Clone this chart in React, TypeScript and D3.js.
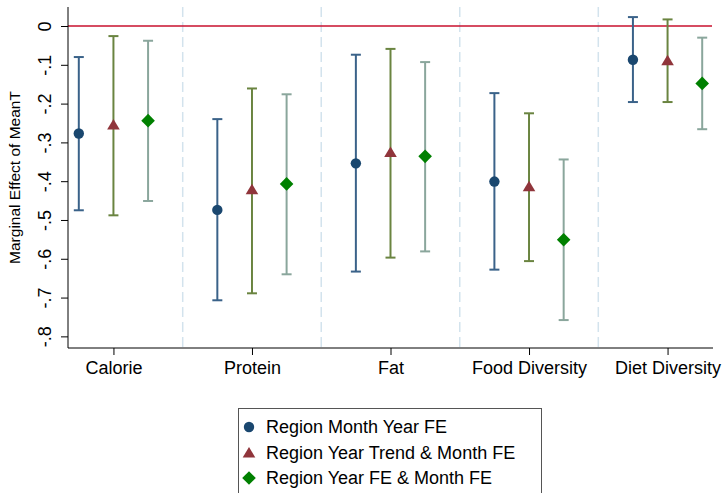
import React, { useRef, useEffect } from "react";
import * as d3 from "d3";

const categories = ["Calorie", "Protein", "Fat", "Food Diversity", "Diet Diversity"];
const seriesNames = [
  "Region Month Year FE",
  "Region Year Trend & Month FE",
  "Region Year FE & Month FE",
];
// point estimates, one array per model
const estMonthYear = [-0.277, -0.474, -0.354, -0.401, -0.087];
const estYearTrend = [-0.254, -0.421, -0.325, -0.413, -0.088];
const estYearFE = [-0.244, -0.407, -0.336, -0.551, -0.148];
// confidence interval ends
const loMonthYear = [-0.475, -0.707, -0.633, -0.628, -0.196];
const hiMonthYear = [-0.08, -0.24, -0.074, -0.173, 0.023];
const loYearTrend = [-0.488, -0.689, -0.597, -0.606, -0.196];
const hiYearTrend = [-0.026, -0.161, -0.059, -0.225, 0.017];
const loYearFE = [-0.451, -0.64, -0.581, -0.758, -0.266];
const hiYearFE = [-0.038, -0.176, -0.093, -0.344, -0.03];
const yTicks = [0, -0.1, -0.2, -0.3, -0.4, -0.5, -0.6, -0.7, -0.8];
const yTickLabels = ["0", "-.1", "-.2", "-.3", "-.4", "-.5", "-.6", "-.7", "-.8"];

const App = () => {
  const svgRef = useRef<SVGSVGElement | null>(null);

  useEffect(() => {
    const svg = d3.select(svgRef.current);
    svg.selectAll("*").remove();
    const font = "'Liberation Sans', Arial, Helvetica, sans-serif";

    const margin = { top: 7, left: 68, right: 9, bottom: 145 };
    const width = 722;
    const height = 493;
    const innerHeight = height - margin.top - margin.bottom;

    const x = d3.scaleLinear().domain([0.672, 5.328]).range([margin.left, width - margin.right]);
    const y = d3.scaleLinear().domain([0.049, -0.83]).range([margin.top, margin.top + innerHeight]);

    const series = [
      { name: seriesNames[0], est: estMonthYear, lo: loMonthYear, hi: hiMonthYear, off: -0.25, marker: "circle", fill: "#1a476f", line: "#3a6289" },
      { name: seriesNames[1], est: estYearTrend, lo: loYearTrend, hi: hiYearTrend, off: 0, marker: "triangle", fill: "#90353b", line: "#6a8440" },
      { name: seriesNames[2], est: estYearFE, lo: loYearFE, hi: hiYearFE, off: 0.25, marker: "diamond", fill: "#008000", line: "#8aa69c" },
    ];

    const g = svg.append("g");

    // dashed separators between groups
    g.selectAll(".sep")
      .data(d3.range(1, categories.length))
      .enter()
      .append("line")
      .attr("x1", d => x(d + 0.5))
      .attr("x2", d => x(d + 0.5))
      .attr("y1", margin.top)
      .attr("y2", y.range()[1])
      .attr("stroke", "#d3e3ed")
      .attr("stroke-width", 1.5)
      .attr("stroke-dasharray", "10,5");

    // zero line
    g.append("line")
      .attr("x1", x.range()[0])
      .attr("x2", x.range()[1] - 1)
      .attr("y1", y(0))
      .attr("y2", y(0))
      .attr("stroke", "#c8102e")
      .attr("stroke-width", 1.5);

    // axes
    const yAxis = d3.axisLeft(y).tickValues(yTicks).tickSize(7).tickPadding(5).tickFormat((d, i) => yTickLabels[i]);
    const yAxisG = g.append("g").attr("transform", `translate(${margin.left},0)`).call(yAxis);
    yAxisG.select(".domain").attr("stroke", "#000").attr("d", `M0,${margin.top}V${y.range()[1]}`);
    yAxisG.selectAll(".tick line").attr("stroke", "#000");
    yAxisG.selectAll(".tick text")
      .attr("font-family", font)
      .attr("font-size", 18)
      .attr("fill", "#000")
      .attr("text-anchor", "middle")
      .attr("x", 0)
      .attr("dy", 0)
      .attr("transform", "translate(-22,0) rotate(-90)")
      .attr("dominant-baseline", "middle");

    const xAxis = d3.axisBottom(x).tickValues(d3.range(1, categories.length + 1)).tickSize(7).tickPadding(5).tickFormat(d => categories[+d - 1]);
    const xAxisG = g.append("g").attr("transform", `translate(0,${y.range()[1]})`).call(xAxis);
    xAxisG.select(".domain").attr("stroke", "#000").attr("d", `M${x.range()[0]},0H${x.range()[1]}`);
    xAxisG.selectAll(".tick line").attr("stroke", "#000");
    xAxisG.selectAll(".tick text").attr("font-family", font).attr("font-size", 18).attr("fill", "#000").attr("dy", "0.78em");

    // axis title
    g.append("text")
      .attr("transform", `translate(20,${(margin.top + y.range()[1]) / 2}) rotate(-90)`)
      .attr("text-anchor", "middle")
      .attr("font-family", font)
      .attr("font-size", 15.5)
      .text("Marginal Effect of MeanT");

    const drawMarker = (sel: any, kind: string, fill: string) => {
      if (kind === "circle") {
        sel.append("circle").attr("r", 5.2).attr("fill", fill);
      } else if (kind === "triangle") {
        sel.append("path").attr("d", "M0,-5.5L6.3,5L-6.3,5Z").attr("fill", fill);
      } else {
        sel.append("path").attr("d", "M0,-6.8L6.8,0L0,6.8L-6.8,0Z").attr("fill", fill);
      }
    };

    // error bars and markers
    series.forEach(s => {
      categories.forEach((c, i) => {
        const cx = x(i + 1 + s.off);
        const bar = g.append("g");
        bar.append("line").attr("x1", cx).attr("x2", cx).attr("y1", y(s.lo[i])).attr("y2", y(s.hi[i])).attr("stroke", s.line).attr("stroke-width", 2);
        [s.lo[i], s.hi[i]].forEach(v => {
          bar.append("line").attr("x1", cx - 5).attr("x2", cx + 5).attr("y1", y(v)).attr("y2", y(v)).attr("stroke", s.line).attr("stroke-width", 2);
        });
        const m = g.append("g").attr("transform", `translate(${cx},${y(s.est[i])})`);
        drawMarker(m, s.marker, s.fill);
      });
    });

    // legend
    const leg = g.append("g");
    leg.append("rect")
      .attr("x", 238.5)
      .attr("y", 408.5)
      .attr("width", 303)
      .attr("height", 100)
      .attr("fill", "#fff")
      .attr("stroke", "#555")
      .attr("stroke-width", 1);
    series.forEach((s, i) => {
      const ly = 427 + i * 25.5;
      const m = leg.append("g").attr("transform", `translate(249,${ly})`);
      drawMarker(m, s.marker, s.fill);
      leg.append("text")
        .attr("x", 266)
        .attr("y", ly)
        .attr("dy", "0.36em")
        .attr("font-family", font)
        .attr("font-size", 18)
        .text(s.name);
    });
  }, []);

  return (
    <div className="marginal-chart">
      <svg ref={svgRef} width={722} height={493} style={{ position: "absolute", left: 0, top: 0, background: "#fff" }} />
    </div>
  );
};

export default App;
